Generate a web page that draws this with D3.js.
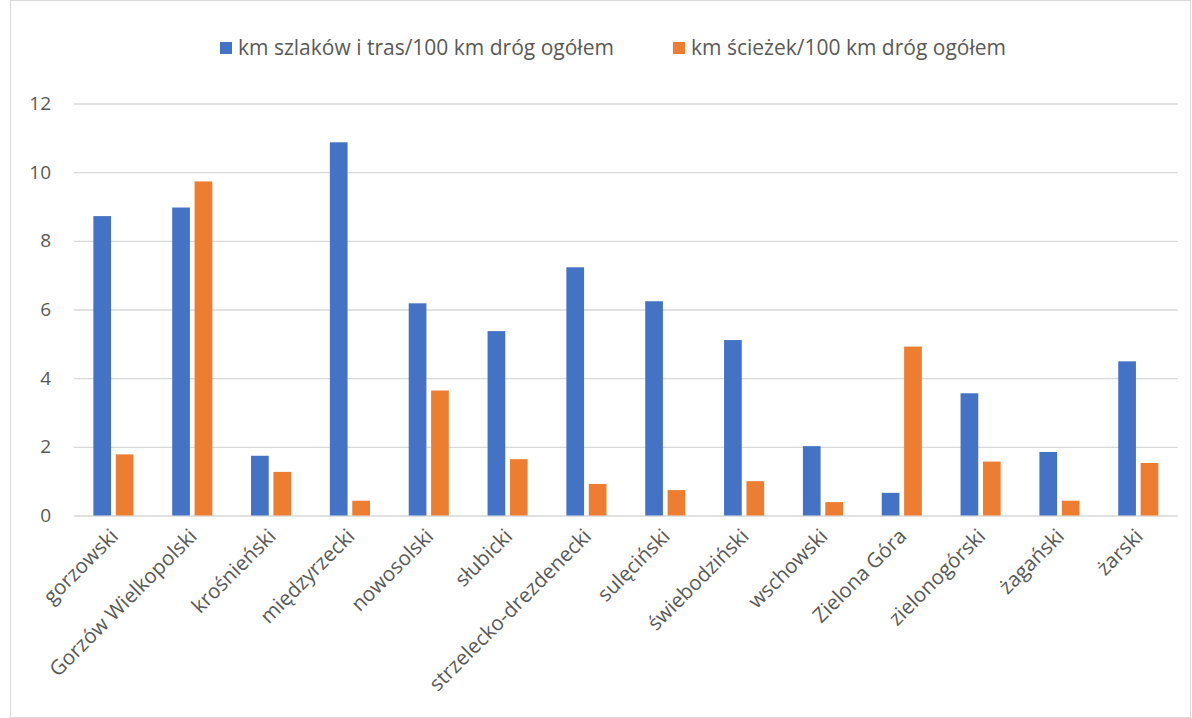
<!DOCTYPE html>
<html>
<head>
<meta charset="utf-8">
<script src="https://cdn.jsdelivr.net/npm/d3@7"></script>
<style>
  body { margin: 0; background: #fff; }
  text { font-family: "Open Sans", sans-serif; fill: #595959; }
</style>
</head>
<body>
<div id="chart"></div>
<script>
// data
const categories = ["gorzowski", "Gorzów Wielkopolski", "krośnieński", "międzyrzecki", "nowosolski",
  "słubicki", "strzelecko-drezdenecki", "sulęciński", "świebodziński", "wschowski",
  "Zielona Góra", "zielonogórski", "żagański", "żarski"];
const szlaki = [8.72, 8.97, 1.74, 10.87, 6.18, 5.37, 7.23, 6.24, 5.11, 2.02, 0.66, 3.56, 1.85, 4.49];
const sciezki = [1.78, 9.73, 1.27, 0.43, 3.64, 1.64, 0.92, 0.74, 1.00, 0.39, 4.92, 1.57, 0.43, 1.53];
const seriesNames = ["km szlaków i tras/100 km dróg ogółem", "km ścieżek/100 km dróg ogółem"];
const yTicks = [0, 2, 4, 6, 8, 10, 12];

const width = 1192, height = 718;
const margin = {top: 103.5, right: 14.3, bottom: 202.5, left: 74};
const colors = ["#4472C4", "#ED7D31"];

const svg = d3.select("#chart").append("svg")
  .attr("width", width).attr("height", height);

// chart frame
svg.append("rect")
  .attr("x", 10.5).attr("y", 0.5)
  .attr("width", width - 12).attr("height", height - 1)
  .attr("fill", "none").attr("stroke", "#d9d9d9");

const x = d3.scaleBand()
  .domain(categories)
  .range([margin.left, width - margin.right]);

// the two bars of a group take 40px around the band centre
const groupW = 40.1;
const x1 = d3.scaleBand()
  .domain([0, 1])
  .range([(x.bandwidth() - groupW) / 2, (x.bandwidth() + groupW) / 2])
  .paddingInner(0.21);

const y = d3.scaleLinear()
  .domain([0, 12])
  .range([height - margin.bottom, margin.top]);

// gridlines
svg.append("g")
  .attr("transform", `translate(${margin.left},0)`)
  .call(d3.axisLeft(y).tickValues(yTicks)
    .tickSize(-(width - margin.left - margin.right)).tickFormat(""))
  .call(g => g.select(".domain").remove())
  .call(g => g.selectAll("line").attr("stroke", "#d9d9d9").attr("stroke-width", 1.3));

// y labels
svg.append("g")
  .selectAll("text")
  .data(yTicks)
  .join("text")
    .attr("x", 51)
    .attr("y", d => y(d))
    .attr("dy", "0.35em")
    .attr("text-anchor", "end")
    .style("font-size", "19px")
    .text(d => d);

// bars
const series = [szlaki, sciezki];
series.forEach((vals, s) => {
  svg.append("g")
    .selectAll("rect")
    .data(vals)
    .join("rect")
      .attr("x", (d, i) => x(categories[i]) + x1(s))
      .attr("y", d => y(d))
      .attr("width", x1.bandwidth())
      .attr("height", d => y(0) - y(d))
      .attr("fill", colors[s]);
});

// x labels
svg.append("g")
  .selectAll("text")
  .data(categories)
  .join("text")
    .attr("transform", d => `translate(${x(d) + x.bandwidth() / 2 + 6},${y(0) + 22}) rotate(-45)`)
    .attr("text-anchor", "end")
    .style("font-size", "20.5px")
    .text(d => d);

// legend
const legendX = [220, 673];
const legend = svg.append("g");
seriesNames.forEach((name, i) => {
  legend.append("rect")
    .attr("x", legendX[i]).attr("y", 42)
    .attr("width", 12).attr("height", 12)
    .attr("fill", colors[i]);
  legend.append("text")
    .attr("x", legendX[i] + 18).attr("y", 48)
    .attr("dy", "0.35em")
    .style("font-size", "21px")
    .text(name);
});
</script>
</body>
</html>
